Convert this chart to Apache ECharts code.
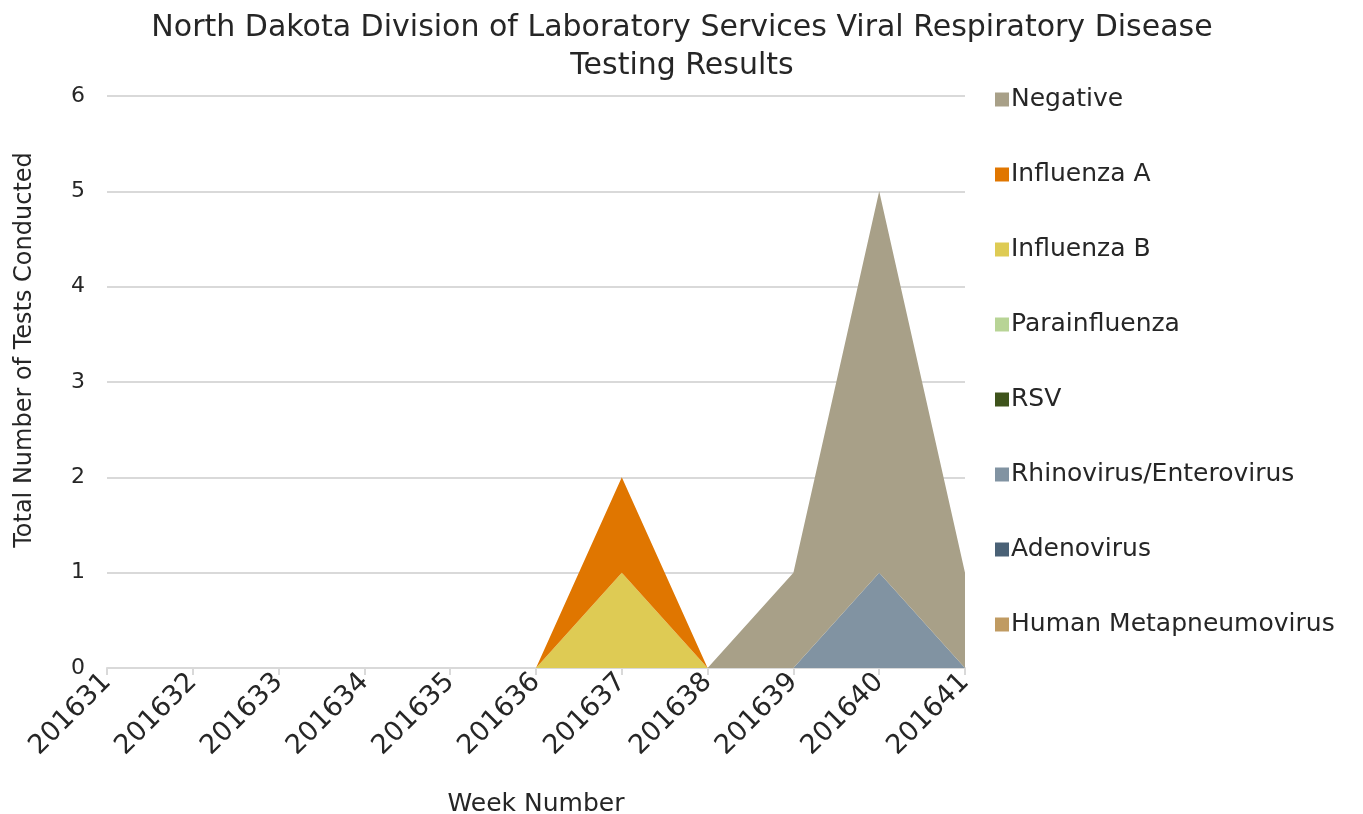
<!DOCTYPE html>
<html>
<head>
<meta charset="utf-8">
<script src="https://cdn.jsdelivr.net/npm/echarts@6/dist/echarts.min.js"></script>
<style>html,body{margin:0;padding:0;background:#fff}#c{width:1363px;height:814px}</style>
</head>
<body>
<div id="c"></div>
<script>
const weeks = ['201631','201632','201633','201634','201635','201636','201637','201638','201639','201640','201641'];
const humanMetapneumovirus = [0,0,0,0,0,0,0,0,0,0,0];
const adenovirus = [0,0,0,0,0,0,0,0,0,0,0];
const rhinoEntero = [0,0,0,0,0,0,0,0,0,1,0];
const rsv = [0,0,0,0,0,0,0,0,0,0,0];
const parainfluenza = [0,0,0,0,0,0,0,0,0,0,0];
const influenzaB = [0,0,0,0,0,0,1,0,0,0,0];
const influenzaA = [0,0,0,0,0,0,1,0,0,0,0];
const negative = [0,0,0,0,0,0,0,0,1,4,1];
const yTicks = [0,1,2,3,4,5,6];

const seriesDefs = [
  ['Human Metapneumovirus', humanMetapneumovirus, '#C09B62'],
  ['Adenovirus', adenovirus, '#4A6176'],
  ['Rhinovirus/Enterovirus', rhinoEntero, '#8193A2'],
  ['RSV', rsv, '#3E531B'],
  ['Parainfluenza', parainfluenza, '#B8D496'],
  ['Influenza B', influenzaB, '#DECB54'],
  ['Influenza A', influenzaA, '#E07600'],
  ['Negative', negative, '#A8A088']
];
const font = 'DejaVu Sans';
const chart = echarts.init(document.getElementById('c'));
chart.setOption({
  animation: false,
  textStyle: {fontFamily: font},
  title: {
    text: 'North Dakota Division of Laboratory Services Viral Respiratory Disease\nTesting Results',
    left: 677, textAlign: 'center', top: 4,
    textStyle: {fontFamily: font, fontSize: 30, fontWeight: 'normal', color: '#262626', lineHeight: 38}
  },
  legend: {
    orient: 'vertical', left: 990, top: 82,
    data: seriesDefs.map(s => s[0]).reverse(),
    icon: 'rect', itemWidth: 14, itemHeight: 14, itemGap: 50,
    textStyle: {fontFamily: font, fontSize: 25, color: '#262626', lineHeight: 24, padding: [0,0,0,-3]}
  },
  grid: {left: 107, right: 398, top: 96, bottom: 146, containLabel: false, outerBoundsMode: 'none'},
  xAxis: {
    type: 'category', data: weeks, boundaryGap: false,
    name: 'Week Number', nameLocation: 'middle', nameGap: 124,
    nameTextStyle: {fontFamily: font, fontSize: 25, color: '#262626'},
    axisLine: {lineStyle: {color: '#D9D9D9', width: 2}},
    axisTick: {show: true, length: 7, lineStyle: {color: '#D9D9D9', width: 2}},
    axisLabel: {rotate: 45, fontFamily: font, fontSize: 27, color: '#262626', margin: 10, interval: 0}
  },
  yAxis: {
    type: 'value', min: yTicks[0], max: yTicks[yTicks.length-1], interval: 1,
    name: 'Total Number of Tests Conducted', nameLocation: 'middle', nameGap: 70,
    nameTextStyle: {fontFamily: font, fontSize: 24, color: '#262626', padding: [0,0,0,64]},
    axisLine: {show: false}, axisTick: {show: false},
    axisLabel: {fontFamily: font, fontSize: 22, color: '#262626', margin: 22},
    splitLine: {lineStyle: {color: '#D9D9D9', width: 2}}
  },
  series: seriesDefs.map(([name, data, color]) => ({
    name, type: 'line', stack: 'total', data,
    symbol: 'none', color,
    lineStyle: {width: 0, color},
    itemStyle: {color},
    areaStyle: {color, opacity: 1}
  }))
});
</script>
</body>
</html>
